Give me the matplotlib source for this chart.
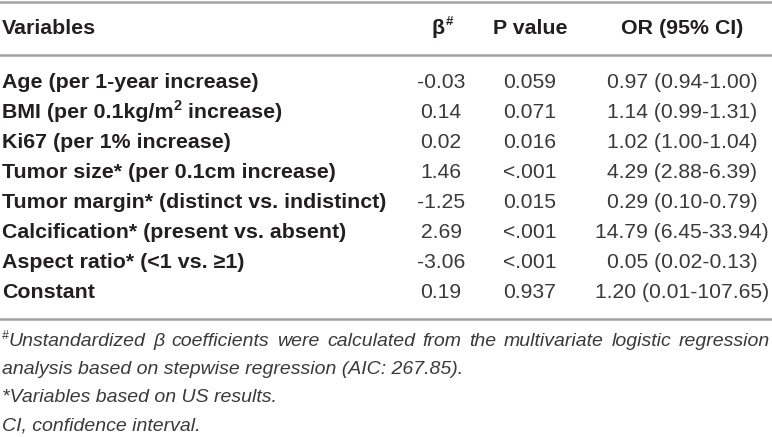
import matplotlib
matplotlib.use("Agg")
import matplotlib.pyplot as plt

W, H = 772, 437

header = ["Variables", "β", "P value", "OR (95% CI)"]
variables = [
    "Age (per 1-year increase)",
    "BMI (per 0.1kg/m|2| increase)",
    "Ki67 (per 1% increase)",
    "Tumor size* (per 0.1cm increase)",
    "Tumor margin* (distinct vs. indistinct)",
    "Calcification* (present vs. absent)",
    "Aspect ratio* (<1 vs. ≥1)",
    "Constant",
]
betas = ["-0.03", "0.14", "0.02", "1.46", "-1.25", "2.69", "-3.06", "0.19"]
pvalues = ["0.059", "0.071", "0.016", "<.001", "0.015", "<.001", "<.001", "0.937"]
odds = ["0.97 (0.94-1.00)", "1.14 (0.99-1.31)", "1.02 (1.00-1.04)",
        "4.29 (2.88-6.39)", "0.29 (0.10-0.79)", "14.79 (6.45-33.94)",
        "0.05 (0.02-0.13)", "1.20 (0.01-107.65)"]
footnote1 = "Unstandardized β coefficients were calculated from the multivariate logistic regression"
footnotes = ["analysis based on stepwise regression (AIC: 267.85).",
             "*Variables based on US results.",
             "CI, confidence interval."]

FONT = "Liberation Sans"
FS = 15.4
FS_NUM = 15.2
FS_NOTE = 14.0
LINE_C = "#a3a3a3"
TXT_C = "#231f20"
NUM_C = "#3a3a3a"

fig = plt.figure(figsize=(W / 100, H / 100), dpi=100)
fig.patch.set_facecolor("white")
r = fig.canvas.get_renderer()


def fx(x):
    return x / W


def fy(y):
    return 1 - y / H


def put(x, y, s, **kw):
    kw.setdefault("family", FONT)
    kw.setdefault("fontsize", FS)
    kw.setdefault("color", TXT_C)
    kw.setdefault("va", "center")
    return fig.text(fx(x), fy(y), s, **kw)


def width_px(t):
    return t.get_window_extent(renderer=r).width


def put_pieces(x, y, s, **kw):
    # text with |sup| pieces drawn as superscripts
    parts = s.split("|")
    for i, p in enumerate(parts):
        if i % 2 == 1:
            t = put(x, y - 7, p, fontsize=FS * 0.68, **kw)
        else:
            t = put(x, y, p, **kw)
        x += width_px(t)
    return x


def hline(y, lw=1.8):
    fig.add_artist(plt.Line2D([0, 1], [fy(y), fy(y)], color=LINE_C, lw=lw))


x_var, x_beta, x_p, x_or = 2, 441, 530, 682

# rules
hline(1.5)
hline(55)
hline(319)

# header
hy = 29
put(x_var, hy, header[0], weight="bold")
t = put(x_beta - 3, hy, header[1], weight="bold", ha="center")
bb = t.get_window_extent(renderer=r)
put(bb.x1 + 1, hy - 7, "#", weight="bold", fontsize=FS * 0.62)
put(x_p, hy, header[2], weight="bold", ha="center")
put(x_or, hy, header[3], weight="bold", ha="center")

# rows
row_y0, row_dy = 83, 30
for i in range(len(variables)):
    y = row_y0 + i * row_dy
    put_pieces(x_var, y, variables[i], weight="bold")
    put(x_beta, y, betas[i], ha="center", fontsize=FS_NUM, color=NUM_C)
    put(x_p, y, pvalues[i], ha="center", fontsize=FS_NUM, color=NUM_C)
    put(x_or, y, odds[i], ha="center", fontsize=FS_NUM, color=NUM_C)

# footnotes
fy1 = 342
t = put(x_var, fy1 - 6, "#", fontsize=FS_NOTE * 0.62, style="italic", color=NUM_C)
x0 = x_var + width_px(t)
words = footnote1.split(" ")
arts = [put(0, fy1, w, fontsize=FS_NOTE, style="italic", color=NUM_C) for w in words]
widths = [width_px(a) for a in arts]
gap = (770 - x0 - sum(widths)) / (len(words) - 1)
xc = x0
for a, w in zip(arts, widths):
    a.set_x(fx(xc))
    xc += w + gap

for j, s in enumerate(footnotes):
    put(x_var, fy1 + 28 * (j + 1), s, fontsize=FS_NOTE, style="italic", color=NUM_C)

fig.savefig("out.png", dpi=100, facecolor="white")
